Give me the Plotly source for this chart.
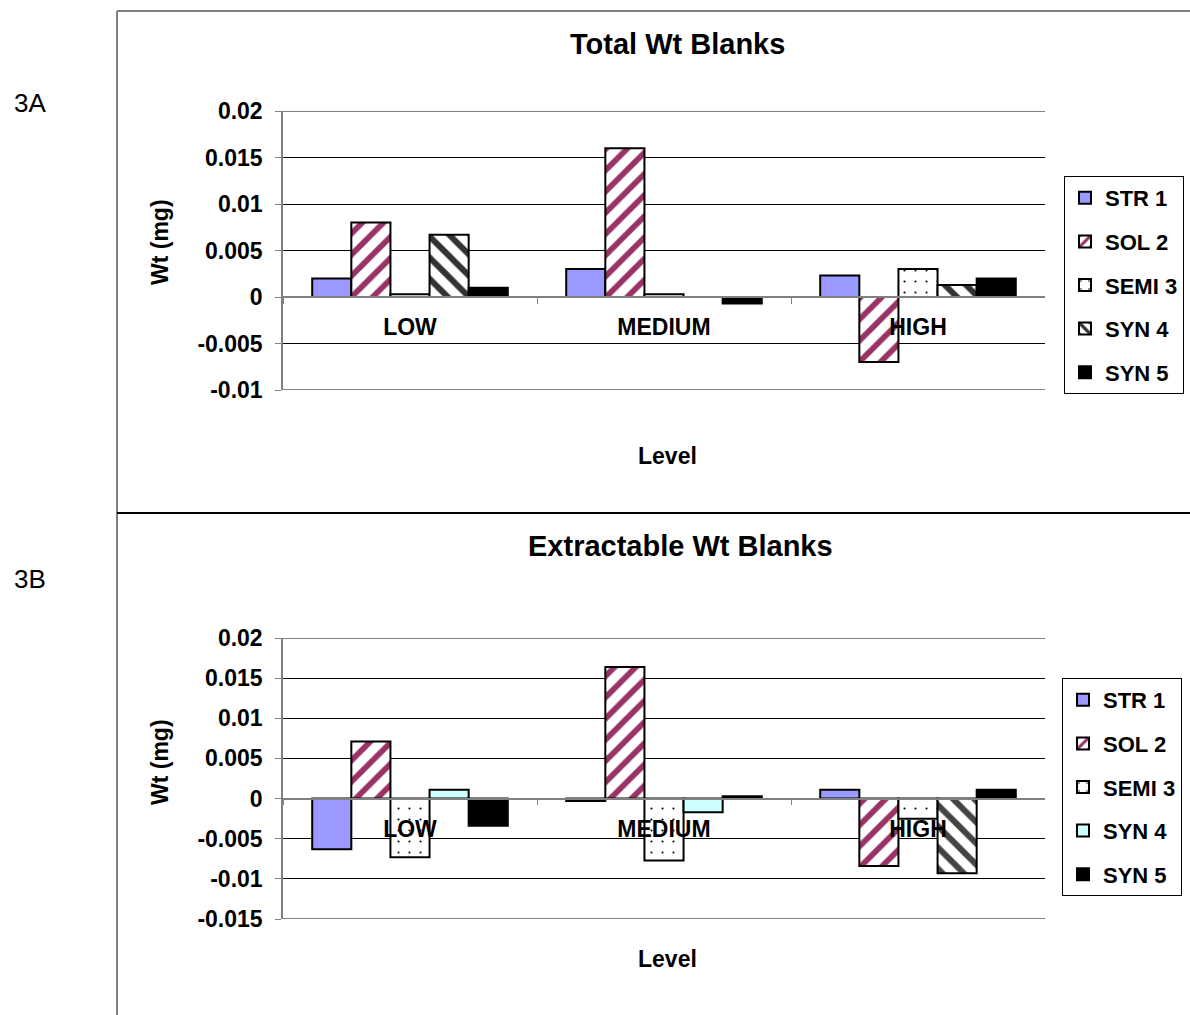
import plotly.graph_objects as go

# ---- data -------------------------------------------------------------
levels = ["LOW", "MEDIUM", "HIGH"]
series = ["STR 1", "SOL 2", "SEMI 3", "SYN 4", "SYN 5"]

total_str1 = [0.002, 0.003, 0.0023]
total_sol2 = [0.008, 0.016, -0.007]
total_semi3 = [0.0003, 0.0003, 0.003]
total_syn4 = [0.0067, 0.0, 0.0013]
total_syn5 = [0.001, -0.0007, 0.002]

extr_str1 = [-0.0063, -0.0003, 0.0011]
extr_sol2 = [0.0071, 0.0164, -0.0084]
extr_semi3 = [-0.0073, -0.0077, -0.0025]
extr_syn4 = [0.0011, -0.0017, -0.0093]
extr_syn5 = [-0.0034, 0.0003, 0.0011]

top_ticks = [0.02, 0.015, 0.01, 0.005, 0, -0.005, -0.01]
top_labels = ["0.02", "0.015", "0.01", "0.005", "0", "-0.005", "-0.01"]
bot_ticks = [0.02, 0.015, 0.01, 0.005, 0, -0.005, -0.01, -0.015]
bot_labels = ["0.02", "0.015", "0.01", "0.005", "0", "-0.005", "-0.01", "-0.015"]

# ---- page geometry helpers -------------------------------------------
W, H = 1190, 1015
FONT = "Liberation Sans, Arial, sans-serif"


def fx(px):
    return px / W


def fy(py):
    return 1 - py / H


top_range = [-0.01, 0.02]
bot_range = [-0.015, 0.02]
top_dom = [fy(390), fy(111)]
bot_dom = [fy(919), fy(638)]
x_dom = [fx(283), fx(1045)]


def zero_pos(dom, rng):
    return dom[0] + (0 - rng[0]) / (rng[1] - rng[0]) * (dom[1] - dom[0])


line_style = dict(color="black", width=2)

# per-series styling (colour / hatch)
stripe_sol = dict(shape="/", fgcolor="#993366", bgcolor="white",
                  size=15, solidity=0.38, fgopacity=1)
dots = dict(shape=".", fgcolor="black", bgcolor="white",
            size=11, solidity=0.03, fgopacity=1)

styles_top = [
    dict(color="#9999FF"),
    dict(color="white", pattern=stripe_sol),
    dict(color="white", pattern=dots),
    dict(color="white", pattern=dict(shape="\\", fgcolor="#333333", bgcolor="white",
                                     size=15, solidity=0.4, fgopacity=1)),
    dict(color="black"),
]
styles_bot = [
    dict(color="#9999FF"),
    dict(color="white", pattern=stripe_sol),
    dict(color="white", pattern=dots),
    dict(color=["#CCFFFF", "#CCFFFF", "white"],
         pattern=dict(shape=["", "", "\\"], fgcolor="black", bgcolor="white",
                      size=15, solidity=0.4, fgopacity=1)),
    dict(color="black"),
]

top_vals = [total_str1, total_sol2, total_semi3, total_syn4, total_syn5]
bot_vals = [extr_str1, extr_sol2, extr_semi3, extr_syn4, extr_syn5]

fig = go.Figure()

for i, (name, vals) in enumerate(zip(series, top_vals)):
    fig.add_trace(go.Bar(
        x=levels, y=vals, name=name, xaxis="x", yaxis="y",
        marker=dict(**styles_top[i], line=line_style),
        legend="legend", legendgroup="a%d" % i,
    ))

for i, (name, vals) in enumerate(zip(series, bot_vals)):
    fig.add_trace(go.Bar(
        x=levels, y=vals, name=name, xaxis="x2", yaxis="y2",
        marker=dict(**styles_bot[i], line=line_style),
        legend="legend2", legendgroup="b%d" % i,
    ))

tick_font = dict(family=FONT, size=23, color="black", weight="bold")

xaxis_common = dict(
    type="category", domain=x_dom, showline=True, linecolor="#808080", linewidth=1.5,
    ticks="outside", tickson="boundaries", ticklen=6, tickcolor="#808080",
    tickfont=tick_font, ticklabelstandoff=10, showgrid=False, anchor="free",
    fixedrange=True, automargin=False,
)
yaxis_common = dict(
    showline=True, linecolor="#808080", linewidth=1.5, ticks="outside", ticklen=6,
    tickcolor="#808080", tickfont=tick_font, showgrid=True, gridcolor="black",
    gridwidth=1, zeroline=False, ticklabelstandoff=8, fixedrange=True,
    automargin=False,
)

legend_common = dict(
    font=dict(family=FONT, size=22, color="black", weight="bold"),
    bordercolor="black", borderwidth=1, bgcolor="white",
    xanchor="left", yanchor="top", tracegroupgap=12, itemwidth=30,
    traceorder="grouped",
)

fig.update_layout(
    width=W, height=H,
    autosize=False,
    margin=dict(l=0, r=0, t=0, b=0, pad=0, autoexpand=False),
    paper_bgcolor="white", plot_bgcolor="white",
    barmode="group", bargap=0.23, bargroupgap=0,
    font=dict(family=FONT, color="black"),
    xaxis=dict(**xaxis_common, position=zero_pos(top_dom, top_range)),
    yaxis=dict(**yaxis_common, domain=top_dom, range=top_range,
               tickvals=top_ticks, ticktext=top_labels, anchor="x"),
    xaxis2=dict(**xaxis_common, position=zero_pos(bot_dom, bot_range)),
    yaxis2=dict(**yaxis_common, domain=bot_dom, range=bot_range,
                tickvals=bot_ticks, ticktext=bot_labels, anchor="x2"),
    legend=dict(**legend_common, x=fx(1064), y=fy(176)),
    legend2=dict(**legend_common, x=fx(1062), y=fy(678)),
    showlegend=True,
)

# gridlines sitting on the edges of each value range
for xr, yr, rng in (("x domain", "y", top_range), ("x2 domain", "y2", bot_range)):
    for v in rng:
        fig.add_shape(type="line", xref=xr, yref=yr, x0=0, x1=1, y0=v, y1=v,
                      line=dict(color="black", width=1), layer="below")

# outer frames of the two panels
frame = dict(type="line", xref="paper", yref="paper")
fig.add_shape(**frame, x0=fx(117), x1=1, y0=fy(11), y1=fy(11),
              line=dict(color="#7f7f7f", width=2))
fig.add_shape(**frame, x0=fx(117), x1=fx(117), y0=fy(11), y1=0,
              line=dict(color="#7f7f7f", width=2))
fig.add_shape(**frame, x0=fx(117), x1=1, y0=fy(513), y1=fy(513),
              line=dict(color="black", width=2))

ann_bold = dict(xref="paper", yref="paper", showarrow=False,
                xanchor="center", yanchor="middle")
texts = [
    ("Total Wt Blanks", 677, 44, 29, True, 0),
    ("Extractable Wt Blanks", 680, 546, 29, True, 0),
    ("Level", 667, 456, 23, True, 0),
    ("Level", 667, 959, 23, True, 0),
    ("Wt (mg)", 160, 242, 23, True, -90),
    ("Wt (mg)", 160, 762, 23, True, -90),
    ("3A", 30, 103, 26, False, 0),
    ("3B", 30, 579, 26, False, 0),
]
for txt, x, y, size, bold, ang in texts:
    fig.add_annotation(
        **ann_bold, text=txt, x=fx(x), y=fy(y), textangle=ang,
        font=dict(family=FONT, size=size, color="black",
                  weight="bold" if bold else "normal"),
    )

fig.write_html("out.html")
